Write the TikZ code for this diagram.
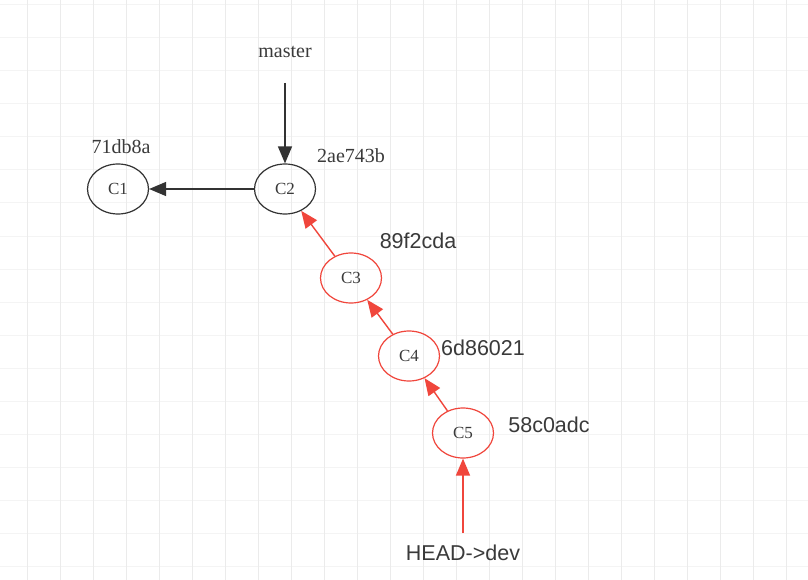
\documentclass[tikz,border=0pt]{standalone}
\usepackage{fontspec}
\setmainfont{Liberation Serif}
\newfontfamily\labelsans{Liberation Sans}
\usetikzlibrary{arrows.meta,shapes.geometric}
\definecolor{gitred}{HTML}{F0463C}
\definecolor{gridv}{HTML}{EBEBEB}
\definecolor{gridh}{HTML}{F4F4F4}
\definecolor{txt}{HTML}{3A3A3A}
\begin{document}
\begin{tikzpicture}[x=1pt,y=-1pt,
  commit/.style={ellipse, draw, line width=1.2pt, minimum width=61pt, minimum height=50pt, inner sep=0pt, font=\fontsize{17}{17}\selectfont, text=txt},
  blackc/.style={commit, draw=black!80},
  redc/.style={commit, draw=gitred},
  serlab/.style={font=\fontsize{20}{20}\selectfont, text=txt, inner sep=0pt},
  sanlab/.style={font=\labelsans\fontsize{21.5}{21.5}\selectfont, text=txt, inner sep=0pt},
  blackarr/.style={draw=black!80, line width=1.4pt, -{Triangle[length=17pt,width=14pt]}},
  redarr/.style={draw=gitred, line width=1.4pt, -{Triangle[length=17pt,width=14pt]}}
]
\useasboundingbox (0,0) rectangle (808,580);
\fill[white] (0,0) rectangle (808,580);
% grid
\foreach \k in {0,...,24} {\draw[gridh, line width=1pt] (0,5+33*\k) -- (808,5+33*\k);}
\foreach \k in {0,...,24} {\draw[gridv, line width=1pt] (27+33*\k,0) -- (27+33*\k,580);}

\node[blackc] (c1) at (118,189) {C1};
\node[blackc] (c2) at (285,189) {C2};
\node[redc] (c3) at (351,278) {C3};
\node[redc] (c4) at (409,356) {C4};
\node[redc] (c5) at (463,433) {C5};

\node[serlab] (master) at (285,52) {master};
\coordinate (mstart) at (285,83);
\node[serlab] (h1) at (121,147) {71db8a};
\node[serlab] (h2) at (351,156) {2ae743b};
\node[sanlab] (h3) at (418,241) {89f2cda};
\node[sanlab] (h4) at (483,348) {6d86021};
\node[sanlab] (h5) at (549,425) {58c0adc};
\node[sanlab] (head) at (463,553) {HEAD->dev};
\coordinate (hstart) at (463,533);

\draw[blackarr] (mstart) -- (c2);
\draw[blackarr] (c2) -- (c1);
\draw[redarr] (c3) -- (c2);
\draw[redarr] (c4) -- (c3);
\draw[redarr] (c5) -- (c4);
\draw[redarr] (hstart) -- (c5);
\end{tikzpicture}
\end{document}
